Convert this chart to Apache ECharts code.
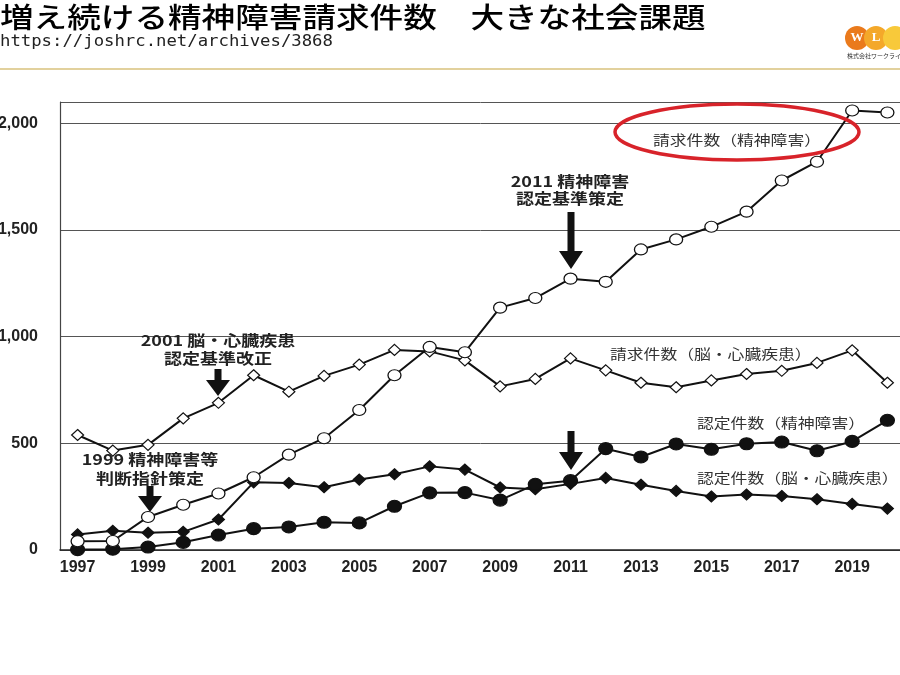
<!DOCTYPE html>
<html>
<head>
<meta charset="utf-8">
<script src="https://cdn.jsdelivr.net/npm/echarts@6/dist/echarts.min.js"></script>
<style>
  html, body { margin: 0; padding: 0; background: #fff; }
  #main { width: 900px; height: 675px; }
</style>
</head>
<body>
<div id="main"></div>
<script type="text/javascript">
  // 年度
  var years = ['1997', '1998', '1999', '2000', '2001', '2002', '2003', '2004', '2005', '2006', '2007', '2008',
    '2009', '2010', '2011', '2012', '2013', '2014', '2015', '2016', '2017', '2018', '2019', '2020'];

  // 請求件数（精神障害）
  var mentalClaims = [41, 42, 155, 212, 265, 341, 447, 524, 656, 819, 952, 927,
    1136, 1181, 1272, 1257, 1409, 1456, 1515, 1586, 1732, 1820, 2060, 2051];
  // 請求件数（脳・心臓疾患）
  var heartClaims = [539, 466, 493, 617, 690, 819, 742, 816, 869, 938, 931, 889,
    767, 802, 898, 842, 784, 763, 795, 825, 840, 877, 936, 784];
  // 認定件数（精神障害）
  var mentalApproved = [2, 4, 14, 36, 70, 100, 108, 130, 127, 205, 268, 269,
    234, 308, 325, 475, 436, 497, 472, 498, 506, 465, 509, 608];
  // 認定件数（脳・心臓疾患）
  var heartApproved = [73, 90, 81, 85, 143, 317, 314, 294, 330, 355, 392, 377,
    293, 285, 310, 338, 306, 277, 251, 260, 253, 238, 216, 194];

  var yTicks = [0, 500, 1000, 1500, 2000];

  var chart = echarts.init(document.getElementById('main'));

  var jp = '"Noto Sans CJK JP", sans-serif';
  var sx = 1.2; // 元画像は横に少し伸びている

  // 下向き矢印
  function arrow(x, top, neck, tip) {
    return {
      type: 'polygon',
      shape: {
        points: [[x - 3.5, top], [x + 3.5, top], [x + 3.5, neck], [x + 12, neck],
          [x, tip], [x - 12, neck], [x - 3.5, neck]]
      },
      style: { fill: '#111' },
      z: 100
    };
  }

  function note(x, y, txt, opt) {
    opt = opt || {};
    return {
      type: 'text',
      x: x, y: y,
      scaleX: sx,
      z: 100,
      style: {
        text: txt,
        x: 0, y: 0,
        align: opt.align || 'center',
        verticalAlign: 'middle',
        font: (opt.weight || 'bold') + ' ' + (opt.size || 15) + 'px ' + jp,
        fill: opt.color || '#222'
      }
    };
  }

  var graphics = [
    // タイトル
    {
      type: 'text', x: 0, y: 3, scaleX: sx,
      style: { text: '増え続ける精神障害請求件数　大きな社会課題', x: 0, y: 0, align: 'left', verticalAlign: 'top',
        font: '500 28px ' + jp, fill: '#000' }
    },
    {
      type: 'text', x: 0, y: 34, scaleX: 1.08,
      style: { text: 'https://joshrc.net/archives/3868', x: 0, y: 0, align: 'left', verticalAlign: 'top',
        font: '16px "DejaVu Sans Mono", monospace', fill: '#222' }
    },
    { type: 'line', shape: { x1: 0, y1: 69, x2: 900, y2: 69 }, style: { stroke: '#d9c27c', lineWidth: 1.5 } },
    // ロゴ
    { type: 'circle', shape: { cx: 857, cy: 38, r: 12 }, style: { fill: '#ea7a1c' } },
    { type: 'circle', shape: { cx: 876, cy: 38, r: 12 }, style: { fill: '#f4a82a' } },
    { type: 'circle', shape: { cx: 895, cy: 38, r: 12 }, style: { fill: '#f8c93a' } },
    { type: 'text', x: 857, y: 38, style: { text: 'W', x: 0, y: 0, align: 'center', verticalAlign: 'middle', font: 'bold 13px serif', fill: '#fff' } },
    { type: 'text', x: 876, y: 38, style: { text: 'L', x: 0, y: 0, align: 'center', verticalAlign: 'middle', font: 'bold 13px serif', fill: '#fff' } },
    { type: 'text', x: 847, y: 56, style: { text: '株式会社ワークライフ', x: 0, y: 0, align: 'left', verticalAlign: 'middle', font: '6px ' + jp, fill: '#333' } },

    // 注記
    note(218, 340, '2001 脳・心臓疾患'),
    note(218, 358, '認定基準改正'),
    arrow(218, 369, 380, 396),
    note(150, 459, '1999 精神障害等'),
    note(150, 478, '判断指針策定'),
    arrow(150, 486, 496, 512),
    note(570, 181, '2011 精神障害'),
    note(570, 198, '認定基準策定'),
    arrow(571, 212, 251, 269),
    arrow(571, 431, 452, 470),

    // 系列名
    note(653, 140, '請求件数（精神障害）', { align: 'left', weight: 'normal', size: 14, color: '#333' }),
    note(610, 354, '請求件数（脳・心臓疾患）', { align: 'left', weight: 'normal', size: 14, color: '#333' }),
    note(697, 423, '認定件数（精神障害）', { align: 'left', weight: 'normal', size: 14, color: '#333' }),
    note(697, 478, '認定件数（脳・心臓疾患）', { align: 'left', weight: 'normal', size: 14, color: '#333' }),

    // 赤い楕円
    {
      type: 'ellipse',
      shape: { cx: 737, cy: 132, rx: 122, ry: 28 },
      style: { fill: 'none', stroke: '#d8232a', lineWidth: 3.5 },
      z: 100
    }
  ];

  function lineSeries(name, data, symbol, size, fill, z) {
    return {
      name: name,
      type: 'line',
      data: data,
      symbol: symbol,
      symbolSize: size,
      showAllSymbol: true,
      z: z,
      lineStyle: { color: '#111', width: 2 },
      itemStyle: { color: fill, borderColor: '#111', borderWidth: 1.2 },
      animation: false
    };
  }

  chart.setOption({
    backgroundColor: '#fff',
    animation: false,
    grid: { left: 60, right: -5, top: 102, bottom: 125, containLabel: false, outerBoundsMode: 'none' },
    xAxis: {
      type: 'category',
      data: years,
      boundaryGap: true,
      axisLine: { lineStyle: { color: '#222', width: 1.5 } },
      axisTick: { inside: true, length: 5, interval: 0, lineStyle: { color: '#222' } },
      axisLabel: {
        interval: 1,
        margin: 10,
        color: '#222',
        fontSize: 16,
        fontWeight: 'bold',
        fontFamily: 'Arial, "Liberation Sans", sans-serif'
      },
      splitLine: { show: false }
    },
    yAxis: {
      type: 'value',
      min: 0,
      max: 2100,
      interval: 500,
      axisLine: { show: true, lineStyle: { color: '#444', width: 1.2 } },
      axisTick: { show: false },
      axisLabel: {
        showMaxLabel: false,
        margin: 22,
        color: '#222',
        fontSize: 16,
        fontWeight: 'bold',
        fontFamily: 'Arial, "Liberation Sans", sans-serif',
        formatter: function (v) {
          return yTicks.indexOf(v) >= 0 ? v.toLocaleString('en-US') : '';
        }
      },
      splitLine: { show: true, lineStyle: { color: '#555', width: 1 } }
    },
    graphic: graphics,
    series: [
      lineSeries('請求件数（脳・心臓疾患）', heartClaims, 'diamond', [12, 11], '#fff', 3),
      lineSeries('認定件数（脳・心臓疾患）', heartApproved, 'diamond', [12, 11], '#111', 3),
      lineSeries('認定件数（精神障害）', mentalApproved, 'circle', [14, 12], '#111', 4),
      lineSeries('請求件数（精神障害）', mentalClaims, 'circle', [13, 11], '#fff', 5)
    ]
  });
</script>
</body>
</html>
